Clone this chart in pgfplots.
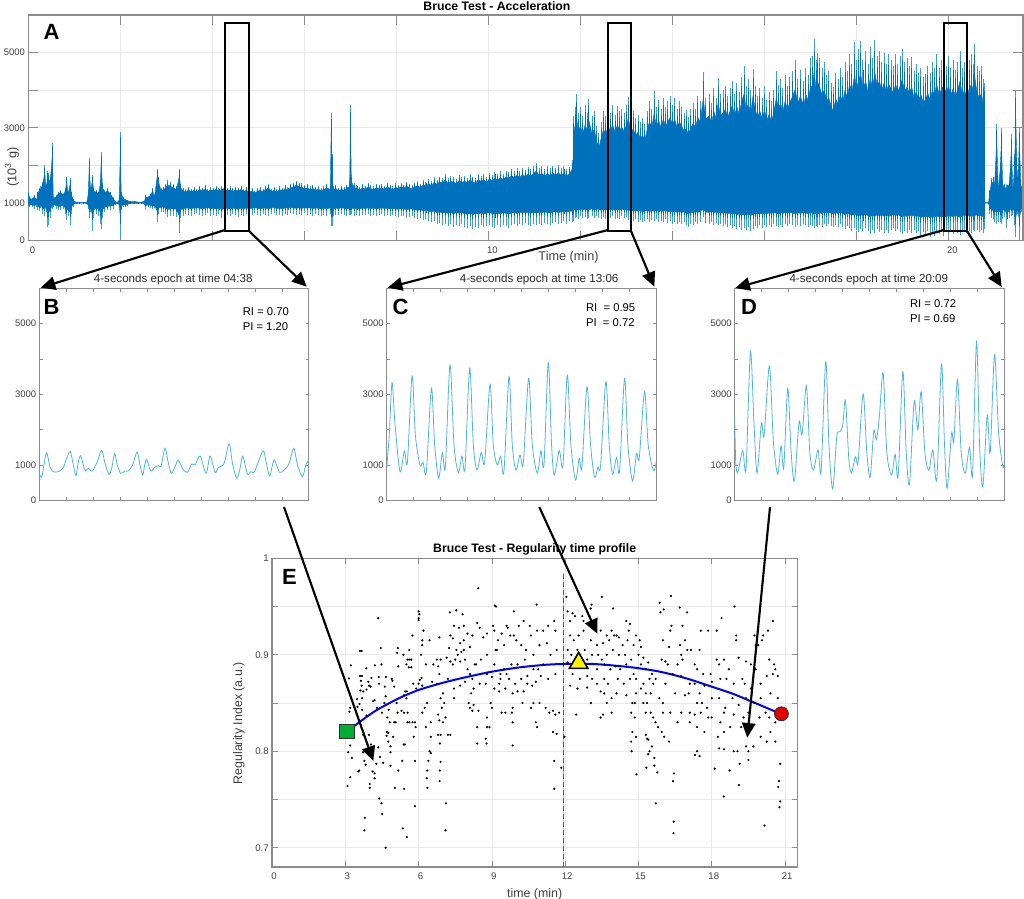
\documentclass[border=0pt]{standalone}
\usepackage{fontspec}
\setmainfont{Liberation Sans}
\usepackage{pgfplots}
\pgfplotsset{compat=1.18}
\usepackage{pgfplotstable}
\usetikzlibrary{arrows.meta}

\definecolor{sigdark}{HTML}{0072BD}
\definecolor{siglight}{HTML}{3E9FD8}
\definecolor{epoch}{HTML}{4FB4E2}
\definecolor{boxgrey}{HTML}{8C8C8C}
\definecolor{txtgrey}{HTML}{404040}
\definecolor{gridgrey}{HTML}{E9E9E9}
\definecolor{cutoff}{HTML}{FF1020}
\definecolor{cutoffpale}{HTML}{FF9AA0}

% acceleration trace: lowest and highest sample in each time slot
\pgfplotstableread{
t lo hi
0 850 1300
.03 900 1150
.08 880 1120
.13 850 1200
.18 900 1100
.2 820 1300
.23 780 1400
.27 860 1450
.3 700 1550
.355 650 2000
.38 750 1500
.42 350 1850
.44 400 1800
.47 600 1700
.52 850 2600
.54 900 1150
.6 850 1200
.65 800 1300
.7 820 1350
.75 850 1250
.8 700 1400
.83 550 1700
.86 650 1300
.91 400 1650
.93 700 1300
.97 900 1100
1.0 960 1040
1.1 985 1015
1.2 985 1015
1.27 970 1030
1.3 850 1300
1.32 600 2200
1.35 750 1400
1.39 250 1750
1.42 600 1400
1.47 700 1350
1.52 650 1300
1.56 450 1600
1.58 300 2350
1.61 600 1500
1.66 750 1350
1.72 800 1400
1.78 820 1300
1.84 850 1150
1.88 950 1050
1.93 985 1015
1.97 900 1100
2.0 100 2900
2.015 800 1300
2.06 900 1150
2.1 880 1100
2.16 930 1070
2.22 970 1040
2.3 960 1050
2.38 975 1030
2.45 985 1015
2.52 950 1060
2.55 850 1200
2.6 880 1180
2.65 860 1250
2.7 830 1400
2.74 860 1200
2.8 500 1900
2.83 700 1700
2.88 750 1400
2.93 760 1420
2.98 700 1500
3.03 620 1600
3.09 640 1550
3.15 650 1500
3.22 620 1450
3.28 200 1900
3.31 600 1500
3.36 650 1400
3.42 700 1360
3.48 680 1430
3.54 660 1380
3.6 700 1420
3.66 720 1370
3.72 680 1450
3.78 650 1400
3.84 690 1470
3.9 720 1380
3.96 660 1430
4.02 680 1400
4.08 640 1460
4.14 700 1390
4.2 610 1450
4.26 660 1480
4.32 690 1400
4.38 640 1440
4.44 700 1390
4.5 670 1430
4.56 620 1400
4.62 690 1450
4.68 650 1380
4.74 700 1420
4.8 660 1350
4.86 690 1400
4.92 720 1330
4.98 680 1390
5.04 640 1420
5.1 700 1370
5.16 690 1450
5.22 650 1500
5.28 700 1380
5.34 730 1420
5.4 670 1360
5.46 690 1440
5.52 650 1400
5.58 710 1480
5.64 690 1420
5.7 730 1500
5.76 700 1530
5.82 680 1590
5.88 710 1540
5.94 670 1520
6.0 720 1470
6.06 690 1500
6.12 710 1440
6.18 660 1480
6.24 700 1420
6.3 680 1460
6.36 640 1400
6.42 690 1440
6.48 650 1500
6.56 700 1450
6.58 380 3400
6.6 390 2300
6.62 650 1450
6.68 690 1480
6.74 670 1400
6.8 710 1450
6.86 680 1420
6.92 640 1490
6.98 680 1550
7.0 690 3600
7.02 700 1700
7.08 660 1520
7.14 680 1470
7.2 640 1430
7.26 690 1500
7.32 670 1460
7.38 700 1530
7.44 660 1480
7.5 690 1440
7.56 650 1510
7.62 680 1470
7.68 700 1500
7.74 660 1450
7.8 690 1530
7.86 640 1490
7.92 670 1440
7.98 650 1520
8.04 620 1480
8.1 660 1540
8.16 640 1490
8.22 600 1560
8.28 620 1500
8.34 650 1470
8.4 590 1540
8.46 560 1580
8.52 600 1510
8.58 540 1600
8.64 570 1560
8.7 510 1640
8.76 480 1580
8.82 520 1680
8.88 430 1620
8.94 470 1700
9.0 400 1660
9.06 440 1780
9.12 380 1650
9.18 450 1720
9.24 360 1690
9.3 420 1640
9.36 390 1740
9.42 450 1680
9.48 350 1720
9.54 330 1670
9.6 380 1760
9.66 310 1700
9.72 370 1650
9.78 340 1780
9.84 400 1720
9.9 360 1760
9.96 390 1690
10.02 420 1800
10.08 370 1740
10.14 340 1820
10.2 400 1760
10.26 360 1840
10.32 420 1780
10.38 380 1860
10.44 340 1820
10.5 400 1900
10.56 430 1840
10.62 380 1920
10.68 450 1860
10.74 410 1940
10.8 460 1880
10.86 420 1960
10.92 380 1900
10.98 440 1980
11.04 400 2060
11.1 450 1920
11.16 420 1980
11.22 470 1900
11.28 430 1970
11.34 400 1920
11.4 460 1990
11.46 480 1930
11.52 430 2000
11.58 470 1920
11.64 510 1980
11.7 450 1900
11.76 520 1960
11.82 500 2130
11.845 520 2000
11.85 620 3300
11.88 600 3550
11.91 630 3900
11.95 560 3400
12.0 640 3550
12.05 590 3300
12.1 620 3600
12.15 570 3400
12.18 600 3770
12.25 650 3300
12.3 590 3450
12.35 640 3050
12.4 610 2850
12.45 560 3150
12.5 620 3450
12.55 570 3300
12.6 630 3550
12.65 590 3400
12.7 640 3600
12.75 560 3350
12.8 610 3580
12.85 570 3450
12.9 640 3500
12.95 590 3380
13.0 620 3600
13.04 550 3810
13.1 590 3400
13.15 520 3450
13.2 570 3250
13.25 500 3350
13.3 550 3150
13.35 480 3250
13.4 530 3100
13.45 560 3450
13.5 490 3700
13.55 540 3500
13.6 510 3970
13.65 560 3550
13.7 480 3750
13.75 530 3500
13.8 500 3800
13.85 560 3550
13.9 470 3700
13.95 520 3850
14.0 450 3600
14.05 500 3780
14.1 440 3500
14.15 490 3700
14.2 430 3550
14.25 480 3400
14.3 400 3480
14.34 350 3280
14.4 450 3500
14.45 410 3650
14.5 480 3500
14.55 440 3850
14.6 500 3700
14.67 620 4480
14.72 470 3800
14.8 430 3900
14.85 500 3650
14.9 420 4050
14.95 470 3800
14.99 400 4330
15.05 450 3900
15.1 380 4000
15.15 430 4120
15.2 360 3850
15.25 400 4050
15.3 340 4250
15.35 390 3900
15.4 310 4200
15.45 350 3950
15.5 270 4350
15.56 320 4650
15.6 290 4100
15.65 350 4300
15.7 260 4000
15.75 310 4560
15.8 380 4100
15.85 320 3850
15.9 400 4050
15.95 340 3800
16.0 410 4100
16.05 350 3750
16.1 420 3950
16.15 370 3700
16.2 430 4000
16.26 380 4520
16.3 350 4150
16.35 420 4300
16.4 370 4050
16.45 440 4400
16.5 390 4100
16.55 450 4350
16.6 400 4500
16.67 360 4790
16.72 420 4300
16.78 380 4550
16.85 440 4250
16.9 400 4600
16.95 360 4400
17.0 420 4850
17.04 380 4900
17.08 330 5360
17.12 390 4800
17.16 350 5000
17.2 410 4850
17.25 370 4600
17.3 430 4750
17.35 380 4400
17.4 440 4500
17.45 390 4200
17.49 360 4080
17.55 420 4450
17.6 370 4300
17.65 430 4600
17.7 360 4350
17.75 300 4750
17.8 380 4500
17.85 320 4950
17.9 260 4700
17.96 340 5270
18.0 290 4800
18.05 220 5100
18.09 300 5300
18.14 240 4800
18.2 320 5050
18.25 250 4700
18.3 180 5150
18.35 270 4850
18.4 210 5340
18.45 300 4900
18.5 230 5050
18.55 290 4750
18.6 210 5000
18.65 280 4700
18.7 200 4950
18.75 270 4800
18.8 330 4650
18.85 240 4950
18.9 300 4700
18.95 220 4900
18.99 160 5100
19.05 260 4750
19.1 190 4850
19.15 290 4650
19.2 210 4870
19.25 270 4500
19.3 190 4700
19.35 260 4450
19.4 130 4600
19.45 220 4350
19.5 150 4430
19.55 250 4650
19.6 100 4450
19.65 200 4750
19.7 130 4600
19.74 240 4960
19.8 160 4600
19.85 220 4800
19.9 120 4900
19.95 250 4650
20.0 190 4900
20.05 240 4600
20.1 170 4800
20.15 260 4550
20.2 200 4750
20.25 150 5050
20.3 230 4600
20.35 280 4750
20.4 210 4500
20.45 260 4800
20.5 190 4950
20.55 280 4700
20.57 240 5230
20.62 290 4650
20.67 220 4500
20.72 270 4650
20.75 190 4300
20.78 300 4200
20.785 990 1010
20.87 990 1010
20.9 700 1350
20.93 600 1650
20.97 560 1700
21.0 500 1550
21.05 450 3100
21.08 500 1400
21.12 480 2050
21.15 430 3000
21.18 560 1600
21.22 620 1500
21.27 330 1500
21.32 600 1600
21.37 650 2840
21.4 680 1400
21.44 400 2300
21.46 80 3990
21.5 700 1500
21.54 20 3000
21.58 750 1450
}\traceA

\pgfplotsset{
  chart/.style={
    scale only axis,
    anchor=south west,
    scaled ticks=false,
    axis line style={color=boxgrey,line width=.8pt},
    tick style={color=boxgrey,line width=.5pt},
    tick align=inside,
    tick label style={text=txtgrey,font=\fontsize{7.1}{8}\selectfont},
    /pgf/number format/assume math mode=true,
    label style={text=txtgrey,font=\fontsize{9.5}{11}\selectfont},
    title style={text=black,font=\bfseries\fontsize{9.2}{11}\selectfont,anchor=center,yshift=-6pt},
  },
  wholetest/.style={
    at={(28.5*.75pt,-240.5*.75pt)},
    width=994.5*.75pt, height=225.5*.75pt,
    xmin=0, xmax=21.62, ymin=0, ymax=6000,
  },
  epochaxis/.style={
    chart,
    width=269.5*.75pt, height=212*.75pt,
    xmin=0, xmax=4, ymin=0, ymax=6000,
    xtick={0,.4,...,4}, xticklabels={},
    ytick={0,1000,...,6000},
    yticklabels={0,1000,,3000,,5000,},
    major tick length=2.4pt,
    title style={text=txtgrey!60!black,font=\fontsize{8.7}{11}\selectfont},
    yticklabel style={xshift=1.2pt},
  },
  epochline/.style={color=epoch,line width=.6pt,smooth,tension=.5,mark=none},
}

\begin{document}
\begin{tikzpicture}
\path[use as bounding box] (0,0) rectangle (1024*.75pt,-899*.75pt);

% A: whole test, the single samples at the edge of the band
\begin{axis}[chart,wholetest,
  xtick={0,2,...,20}, xticklabels={0,,,,,10,,,,,20},
  ytick={0,1000,...,6000}, yticklabels={0,1000,,3000,,5000,},
  major tick length=7.5pt,
  grid=major, grid style={color=gridgrey,line width=.5pt},
  xticklabel style={xshift=3pt,yshift=-1.5pt},
  yticklabel style={xshift=.8pt},
  title={Bruce Test - Acceleration},
  title style={at={(rel axis cs:.471,1.04)}},
  xlabel={Time (min)},
  xlabel style={at={(rel axis cs:.543,-.072)},anchor=center},
  ylabel={(10\textsuperscript{3} g)},
  ylabel style={at={(rel axis cs:-.0166,.326)},anchor=center},
]
\addplot[draw=none,mark=none,forget plot,
  error bars/.cd,y dir=plus,y explicit,error mark=none,
  error bar style={color=siglight,line width=.7pt}]
  table[x=t,y=lo,y error plus expr=\thisrow{hi}-\thisrow{lo}] {\traceA};
\addplot[draw=none,mark=none,forget plot,
  error bars/.cd,y dir=both,y explicit,error mark=none,
  error bar style={color=sigdark,line width=.6pt}]
  table[x=t,y expr=1000,
    y error plus expr=.93*(\thisrow{hi}-1000),
    y error minus expr=.62*(1000-\thisrow{lo})] {\traceA};
\end{axis}
% same axis again for the solid band on top of those samples
\begin{axis}[scale only axis,anchor=south west,wholetest,hide axis,stack plots=y]
\addplot[draw=none,mark=none,forget plot]
  table[x=t,y expr=1000-.45*(1000-\thisrow{lo})] {\traceA};
\addplot[fill=sigdark,draw=sigdark,line width=.3pt,mark=none,forget plot]
  table[x=t,y expr=.45*(1000-\thisrow{lo})+.8*(\thisrow{hi}-1000)] {\traceA} \closedcycle;
\end{axis}

% B
\begin{axis}[epochaxis,
  at={(39.3*.75pt,-500.3*.75pt)},
  title={4-seconds epoch at time 04:38},
  title style={at={(rel axis cs:.497,1.042)}},
]
\addplot[epochline] coordinates {
(0,764)(.035,651)(.069,1000)(.109,1349)(.158,953)(.208,811)(.282,811)(.356,925)(.406,1189)(.46,1377)
(.505,1000)(.545,698)(.579,1094)(.614,1264)(.653,1000)(.683,830)(.728,906)(.787,830)(.861,1094)(.926,1415)
(.975,1047)(1.035,736)(1.074,906)(1.119,1321)(1.158,1000)(1.208,764)(1.272,830)(1.322,830)(1.386,1000)(1.45,1368)
(1.495,1000)(1.535,717)(1.564,1000)(1.594,1160)(1.653,830)(1.718,943)(1.767,981)(1.807,962)(1.866,1472)(1.916,1047)
(1.96,764)(2.015,953)(2.064,1132)(2.129,887)(2.198,792)(2.262,1028)(2.312,1000)(2.386,1255)(2.475,764)(2.535,1255)
(2.609,792)(2.658,925)(2.743,1047)(2.817,1594)(2.871,1000)(2.931,623)(2.98,906)(3.02,1255)(3.089,745)(3.139,811)
(3.188,792)(3.252,1094)(3.327,1396)(3.376,1000)(3.421,689)(3.485,1142)(3.564,792)(3.634,858)(3.703,1019)(3.777,1472)
(3.832,1000)(3.906,670)(3.955,1000)(4,1132)};
\end{axis}

% C
\begin{axis}[epochaxis,
  at={(386.7*.75pt,-500.3*.75pt)},
  title={4-seconds epoch at time 13:06},
  title style={at={(rel axis cs:.5656,1.042)}},
]
\addplot[epochline] coordinates {
(0,906)(.04,1900)(.079,3330)(.124,2132)(.198,811)(.262,1396)(.307,1075)(.376,3519)(.425,1849)(.494,1000)
(.539,1075)(.588,811)(.663,3170)(.712,1566)(.771,623)(.826,1349)(.87,934)(.939,3830)(.999,1566)(1.063,783)
(1.117,1255)(1.162,906)(1.231,3745)(1.286,1566)(1.34,858)(1.404,1358)(1.454,1066)(1.533,3292)(1.582,1566)(1.642,1000)
(1.691,1245)(1.74,811)(1.815,3500)(1.864,1566)(1.918,858)(1.978,1283)(2.027,1047)(2.106,3453)(2.161,1566)(2.235,774)
(2.289,1406)(2.334,1000)(2.398,3896)(2.447,1566)(2.487,717)(2.561,1406)(2.616,981)(2.68,3547)(2.734,1566)(2.803,575)
(2.858,1189)(2.897,925)(2.972,3208)(3.026,1566)(3.085,651)(3.135,943)(3.174,972)(3.253,3358)(3.303,1566)(3.352,736)
(3.412,1217)(3.456,830)(3.53,3453)(3.58,1566)(3.649,547)(3.708,1321)(3.748,1189)(3.827,3075)(3.881,1566)(3.96,840)
(4,1094)};
\end{axis}

% D
\begin{axis}[epochaxis,
  at={(734.7*.75pt,-500.3*.75pt)},
  title={4-seconds epoch at time 20:09},
  title style={at={(rel axis cs:.4977,1.042)}},
]
\addplot[epochline] coordinates {
(0,2368)(.015,1094)(.045,792)(.119,1406)(.168,887)(.233,4208)(.287,2132)(.332,774)(.396,2179)(.436,1830)
(.515,3802)(.574,1660)(.639,736)(.688,1538)(.728,925)(.787,3170)(.837,1377)(.886,547)(.955,2208)(1.0,1868)
(1.064,3245)(1.114,1377)(1.168,858)(1.238,1425)(1.282,811)(1.351,3925)(1.401,1472)(1.455,321)(1.515,1802)(1.564,1943)
(1.604,2132)(1.644,2830)(1.693,1189)(1.733,774)(1.792,1236)(1.832,1094)(1.906,3009)(1.96,1377)(2.01,651)(2.064,1962)
(2.104,1708)(2.149,2415)(2.203,3613)(2.257,1377)(2.327,717)(2.381,1302)(2.426,698)(2.495,3642)(2.545,1377)(2.594,462)
(2.663,2792)(2.718,2000)(2.767,3075)(2.822,1377)(2.881,849)(2.941,1425)(3.0,604)(3.069,3858)(3.114,1566)(3.153,340)
(3.218,1896)(3.252,1679)(3.307,3425)(3.361,1377)(3.421,764)(3.485,1491)(3.53,736)(3.589,4500)(3.634,1566)(3.683,396)
(3.748,2415)(3.792,1349)(3.856,4123)(3.916,1943)(3.975,1000)(4,962)};
\end{axis}

% E
\begin{axis}[chart,
  at={(272*.75pt,-867*.75pt)},
  width=525.3*.75pt, height=308.7*.75pt,
  xmin=0, xmax=21.5, ymin=.68, ymax=1,
  xtick={0,3,...,21},
  ytick={.7,.75,...,1}, yticklabels={0.7,,0.8,,0.9,,1},
  major tick length=4.2pt,
  grid=major, grid style={color=gridgrey,line width=.5pt},
  xticklabel style={xshift=1.5pt,yshift=-1pt},
  yticklabel style={xshift=1pt},
  tick label style={font=\fontsize{7.2}{8}\selectfont},
  label style={font=\fontsize{9.3}{11}\selectfont},
  title={Bruce Test - Regularity time profile},
  title style={at={(rel axis cs:.5,1.029)}},
  xlabel={time (min)},
  xlabel style={at={(rel axis cs:.5,-.088)},anchor=center},
  ylabel={Regularity Index (a.u.)},
  ylabel style={at={(rel axis cs:-.0628,.4655)},anchor=center},
]
\addplot[color=cutoffpale,line width=1.2pt,mark=none] coordinates {(11.93,.68)(11.93,.985)};
\addplot[color=cutoff,line width=1.2pt,mark=none,dash pattern=on 4pt off 2pt] coordinates {(11.93,.68)(11.93,.985)};
\addplot[only marks,mark=*,mark size=.6pt,black,mark options={draw=none,fill=black}] coordinates {
(4.65,.70)(3.78,.718)(3.8,.731)(5.36,.72)(5.52,.711)(5.85,.743)(7.1,.718)(7.12,.746)(4.39,.751)(4.48,.746)(4.51,.735)
(3.09,.764)(3.2,.773)(4.0,.766)(4.0,.762)(5.03,.762)(5.41,.761)(6.36,.762)(6.34,.772)(6.86,.769)(6.87,.78)(6.9,.789)
(3.12,.799)(3.2,.806)(3.27,.793)(3.23,.889)(3.15,.8755)(3.2,.845)(3.17,.841)(3.48,.854)(3.5,.846)(3.6,.904)(3.67,.904)
(3.6,.878)(3.68,.878)(3.64,.873)(3.67,.868)(3.62,.863)(3.73,.862)(3.69,.855)(3.86,.886)(3.94,.872)(3.97,.868)(3.87,.864)
(4.07,.876)(4.03,.867)(4.14,.852)(4.2,.853)(4.21,.889)(4.45,.907)(4.48,.89)(4.37,.877)(4.66,.877)(4.9,.875)(4.93,.873)
(4.62,.867)(4.65,.857)(5.0,.867)(3.58,.849)(3.69,.843)(3.87,.837)(3.53,.779)(3.57,.78)(3.78,.79)(3.83,.786)(3.73,.799)
(3.73,.817)(3.97,.817)(4.05,.807)(4.35,.804)(4.27,.787)(4.12,.779)(4.2,.777)(4.2,.772)(4.42,.794)(4.55,.788)(4.85,.785)
(4.7,.82)(4.76,.819)(4.69,.816)(4.76,.81)(4.85,.805)(4.85,.799)(4.96,.815)(5.17,.78)(5.33,.79)(5.44,.807)(5.39,.807)
(4.35,.938)(4.38,.87)(4.3,.845)(4.5,.84)(4.6,.85)(4.72,.835)(4.78,.843)(4.82,.83)(5.0,.83)(5.06,.83)(5.1,.85)(5.14,.84)
(5.17,.888)(5.15,.907)(5.12,.902)(5.38,.9)(5.55,.895)(5.5,.89)(5.62,.895)(5.7,.895)(5.75,.92)(5.62,.905)(5.6,.887)(5.7,.887)
(5.4,.858)(5.45,.862)(5.5,.855)(5.52,.862)(5.3,.842)(5.55,.84)(5.62,.83)(5.75,.83)(5.85,.83)(5.88,.825)(5.8,.815)(5.55,.83)
(5.4,.84)(5.85,.79)(6.0,.87)(6.05,.874)(6.12,.876)(5.78,.87)(5.9,.865)(6.15,.868)(6.3,.89)(6.1,.9)(6.15,.91)(6.15,.915)
(6.2,.925)(6.0,.945)(6.03,.942)(6.0,.938)(6.0,.936)(6.45,.915)(6.85,.918)(6.6,.89)(6.75,.895)(6.8,.888)(6.9,.895)(6.55,.872)
(6.75,.87)(6.85,.88)(7.0,.86)(6.9,.855)(7.05,.85)(6.95,.845)(6.25,.845)(6.15,.84)(6.35,.85)(6.3,.825)(6.5,.83)(6.8,.838)
(6.85,.832)(7.1,.835)(7.0,.83)(6.5,.815)(6.8,.817)(6.9,.817)(7.2,.817)(7.3,.817)(6.87,.808)(6.45,.8)(6.5,.798)(6.4,.79)(6.35,.78)
(7.28,.944)(7.54,.946)(7.8,.942)(7.45,.93)(7.65,.928)(7.85,.93)(7.3,.92)(7.4,.917)(7.7,.912)(7.85,.915)(8.0,.922)(8.2,.92)(8.4,.933)
(8.5,.928)(8.65,.918)(8.8,.922)(7.25,.907)(7.55,.905)(7.6,.9)(7.75,.903)(7.85,.905)(7.5,.895)(7.7,.893)(7.9,.895)(8.1,.908)
(7.15,.897)(7.3,.893)(7.4,.89)(8.0,.885)(8.1,.88)(8.3,.89)(8.35,.89)(8.55,.895)(8.8,.9)(7.2,.875)(7.45,.865)(7.45,.855)(7.7,.868)
(7.9,.872)(8.2,.875)(8.25,.865)(8.15,.86)(8.5,.87)(8.75,.87)(8.8,.88)(9.0,.877)(8.05,.85)(8.1,.845)(8.25,.848)(8.2,.842)(8.45,.842)
(8.4,.825)(8.8,.835)(8.95,.85)(9.0,.845)(8.8,.825)(8.9,.825)(8.4,.808)(8.75,.813)(8.78,.808)(9.85,.806)
(8.44,.969)(9.12,.951)(9.17,.95)(9.9,.945)(9.05,.93)(9.1,.925)(9.4,.922)(9.6,.93)(9.65,.928)(9.9,.92)(10.1,.93)(10.3,.935)(10.55,.93)
(10.83,.952)(9.25,.915)(9.2,.905)(9.15,.905)(9.5,.91)(9.75,.92)(10.0,.915)(10.2,.91)(10.4,.905)(10.6,.92)(10.85,.925)(11.1,.925)
(11.3,.93)(11.55,.935)(11.6,.925)(9.1,.89)(9.35,.88)(9.5,.885)(9.8,.89)(10.05,.89)(10.35,.895)(10.7,.9)(10.95,.91)(11.25,.912)
(9.3,.87)(9.35,.875)(9.6,.88)(9.7,.875)(9.95,.87)(10.2,.875)(10.45,.878)(10.7,.885)(10.9,.885)(11.1,.89)(11.4,.9)(11.65,.905)
(9.1,.865)(9.3,.862)(9.55,.865)(9.85,.86)(10.05,.862)(10.3,.862)(10.45,.87)(10.65,.868)(10.8,.872)(11.0,.878)(11.3,.875)(11.6,.88)
(9.4,.84)(9.55,.84)(9.85,.845)(9.82,.84)(9.85,.83)(10.25,.85)(10.6,.845)(10.7,.85)(10.95,.85)(11.2,.845)(11.35,.84)(11.5,.842)
(11.6,.838)(11.75,.84)(10.8,.83)(10.85,.825)(11.5,.82)(11.65,.818)(11.55,.79)(11.55,.761)(11.84,.783)(11.97,.815)
(12.05,.96)(13.08,.952)(13.04,.948)(13.5,.96)(13.96,.948)(12.1,.945)(12.3,.943)(12.2,.935)(12.4,.94)(12.7,.94)(12.75,.935)(13.0,.94)
(13.25,.925)(13.45,.925)(13.7,.92)(13.9,.925)(14.1,.92)(14.5,.935)(14.65,.932)(14.6,.925)(14.9,.92)(12.2,.92)(12.35,.915)(12.55,.92)
(12.75,.925)(13.05,.915)(13.3,.91)(13.55,.912)(13.8,.915)(14.0,.92)(14.2,.918)(14.35,.91)(14.55,.915)(14.8,.91)(15.05,.915)(15.1,.908)
(12.1,.905)(12.25,.9)(12.5,.905)(12.6,.9)(12.8,.905)(13.1,.9)(13.35,.9)(13.5,.895)(13.7,.9)(13.95,.905)(14.2,.9)(14.45,.9)(14.7,.895)
(15.0,.9)(15.2,.897)(15.4,.892)(12.1,.892)(12.9,.895)(13.3,.885)(13.6,.89)(13.85,.885)(14.05,.888)(14.25,.885)(14.5,.89)(14.8,.88)
(15.1,.89)(15.3,.885)(12.3,.88)(12.6,.875)(12.9,.878)(13.1,.875)(13.3,.87)(13.6,.875)(13.75,.87)(14.15,.875)(14.4,.87)(14.65,.875)
(14.9,.875)(15.2,.87)(15.45,.875)(15.6,.87)(12.2,.868)(12.5,.865)(12.9,.866)(13.45,.862)(13.6,.86)(13.9,.855)(14.1,.86)(14.5,.858)
(14.9,.86)(15.1,.865)(15.35,.85)(15.5,.86)(13.05,.85)(13.7,.85)(13.9,.84)(12.45,.838)(13.45,.835)(13.55,.838)(14.75,.85)(14.85,.85)
(14.85,.835)(15.3,.84)(15.5,.84)(15.6,.835)(15.7,.83)(15.8,.825)(14.75,.82)(14.9,.815)(15.3,.817)(15.4,.812)(15.55,.805)(15.45,.8)(15.4,.797)
(14.72,.8)(15.35,.813)(15.95,.82)(16.05,.815)(16.25,.81)(14.92,.776)(15.32,.783)(15.65,.793)(15.65,.785)(15.77,.778)(16.45,.777)(16.41,.769)
(15.71,.746)(16.44,.727)(16.43,.715)(17.31,.796)(17.4,.8)(17.5,.795)(18.12,.782)(18.73,.78)(19.14,.787)(19.5,.791)(19.11,.765)(18.49,.753)
(20.16,.723)(20.8,.787)(20.75,.769)(20.72,.763)(20.8,.748)(20.77,.742)
(16.33,.961)(18.93,.95)(15.87,.954)(16.03,.947)(15.9,.944)(16.69,.949)(16.99,.944)(16.8,.93)(16.35,.93)(16.3,.925)(16.0,.915)(16.25,.908)
(15.95,.895)(16.1,.893)(16.2,.89)(16.7,.91)(16.9,.915)(17.0,.905)(16.6,.89)(16.8,.895)(16.75,.9)(17.15,.905)(17.5,.905)(17.55,.925)
(17.85,.925)(18.2,.925)(18.4,.938)(19.0,.915)(19.0,.92)(19.75,.92)(20.1,.92)(20.3,.925)(20.5,.935)(19.8,.91)(19.9,.91)(20.05,.915)
(17.3,.89)(17.4,.885)(17.65,.88)(17.95,.88)(18.2,.895)(18.3,.89)(18.5,.895)(18.7,.885)(19.1,.897)(19.4,.893)(19.6,.89)(19.8,.885)
(20.35,.895)(20.55,.89)(20.6,.885)(16.4,.88)(16.75,.878)(17.1,.87)(17.3,.87)(17.5,.86)(17.7,.868)(18.0,.872)(18.35,.875)(18.6,.875)
(18.9,.87)(19.25,.875)(19.35,.87)(19.6,.865)(20.0,.87)(20.25,.878)(20.5,.88)(20.7,.878)(16.1,.87)(16.5,.86)(16.9,.858)(17.05,.86)
(17.4,.85)(17.6,.85)(17.8,.845)(18.0,.855)(18.3,.855)(18.55,.845)(18.85,.855)(19.1,.848)(19.4,.855)(19.75,.85)(20.0,.855)(20.4,.86)
(20.7,.855)(16.0,.85)(16.3,.84)(16.75,.84)(17.1,.84)(17.3,.838)(17.55,.84)(17.85,.835)(18.0,.835)(18.35,.83)(18.5,.84)(18.9,.838)
(19.3,.835)(19.5,.84)(19.95,.835)(20.2,.84)(20.35,.835)(20.6,.83)(16.6,.83)(17.1,.83)(17.4,.825)(17.7,.82)(18.25,.815)(18.5,.82)
(18.75,.825)(19.2,.825)(20.0,.815)(20.25,.81)(20.6,.81)(18.3,.803)(18.5,.802)(18.9,.8)(19.05,.8)(19.4,.805)(19.5,.8)(19.7,.805)
(20.4,.82)(15.55,.88)(15.7,.875)(15.85,.855)(16.0,.84)(15.3,.86)(15.2,.85)(14.7,.84)(14.7,.81)
};
\addplot[draw=blue,line width=1.5pt,smooth,mark=none] coordinates {
(3.07,.8205)(3.4,.8268)(4.21,.8415)(5.16,.8545)(6,.8635)(7.07,.8715)(7.89,.8765)(9,.8825)(10.15,.887)(11.24,.8897)(12,.8905)(12.8,.8907)
(13.55,.8898)(14.78,.8868)(15.87,.8825)(16.96,.8755)(18.05,.8665)(18.87,.8595)(19.68,.851)(20.57,.8415)(20.85,.8388)};
\addplot[only marks,mark=square*,mark size=5.4pt,mark options={fill=green!60!black!80!cyan,draw=black!80,line width=1pt}] coordinates {(3.07,.8205)};
\addplot[only marks,mark=triangle*,mark size=8pt,mark options={fill=yellow,draw=black,line width=1.2pt}] coordinates {(12.55,.8914)};
\addplot[only marks,mark=*,mark size=5.2pt,mark options={fill=red!90!black,draw=black!80,line width=.7pt}] coordinates {(20.85,.8388)};
\end{axis}

% annotations, in page pixels
\begin{scope}[x=.75pt,y=-.75pt,line width=1.6pt,black]
\draw (225.3,23.3) rectangle (248.7,231);
\draw (608,23.3) rectangle (631,231);
\draw (944,23.3) rectangle (967.3,231);
\tikzset{big/.style={-{Triangle[length=11pt,width=10pt]}}}
\draw[big] (225,230) -- (40.7,287.7);
\draw[big] (249,231) -- (306.7,286.7);
\draw[big] (608,230) -- (387.7,287.7);
\draw[big] (631,231) -- (654.3,286.7);
\draw[big] (944,230) -- (735.3,288);
\draw[big] (967,231) -- (1001.7,287);
\draw[big] (284,507) -- (373.3,761);
\draw[big] (539.3,507) -- (597.3,633.7);
\draw[big] (770,507) -- (747.3,737.7);
\tikzset{letter/.style={anchor=west,inner sep=0pt,font=\bfseries\fontsize{16.5}{18}\selectfont}}
\node[letter] at (42.5,31.7) {A};
\node[letter] at (42.5,306.7) {B};
\node[letter] at (391.5,306.7) {C};
\node[letter] at (740,306.7) {D};
\node[letter] at (281,576.7) {E};
\tikzset{note/.style={anchor=west,inner sep=0pt,font=\fontsize{8.45}{10}\selectfont}}
\node[note] at (241.7,311.7) {RI = 0.70};
\node[note] at (241.7,326.7) {PI = 1.20};
\node[note] at (585,307.7) {RI\ \ = 0.95};
\node[note] at (585,322.7) {PI\ \ = 0.72};
\node[note] at (909,304) {RI = 0.72};
\node[note] at (909,318.3) {PI = 0.69};
\end{scope}
\end{tikzpicture}
\end{document}
